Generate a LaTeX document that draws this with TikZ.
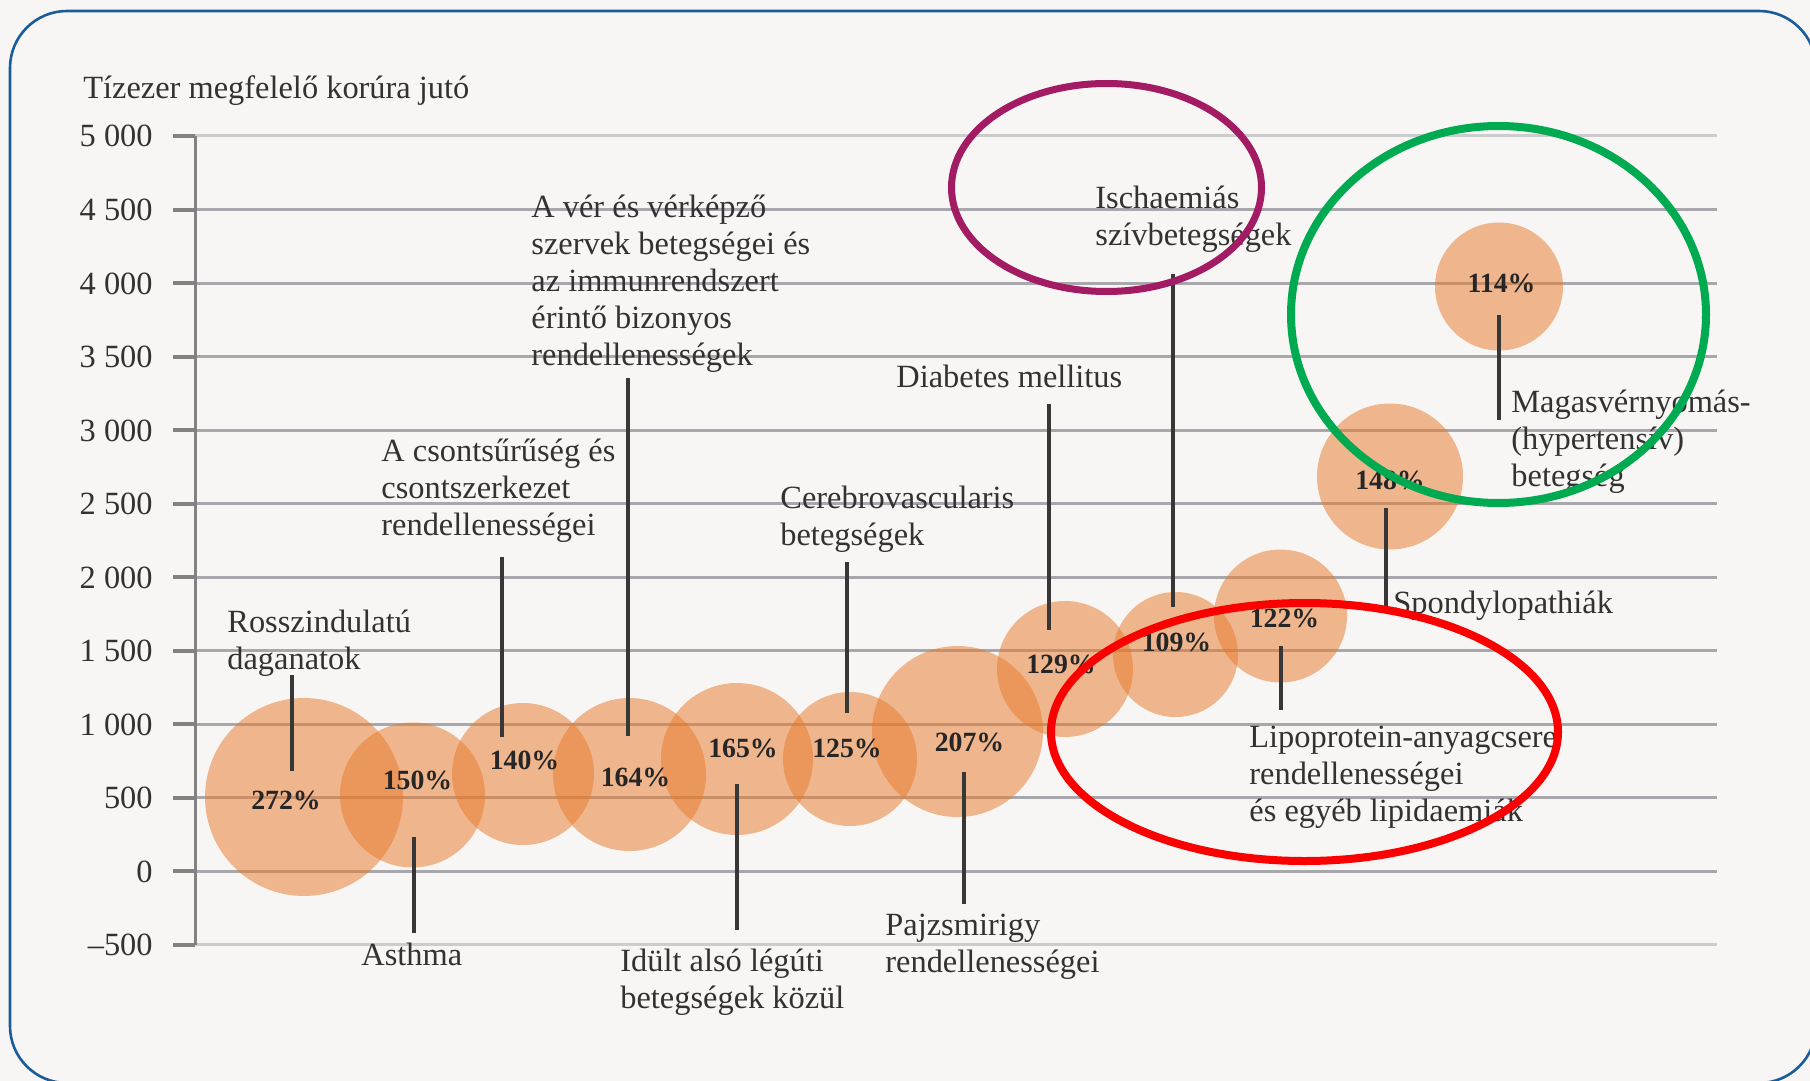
\documentclass[tikz,border=0pt]{standalone}
\usepackage{fontspec}
\setmainfont{Liberation Serif}
\definecolor{bgc}{RGB}{247,246,244}
\definecolor{frameblue}{RGB}{26,92,154}
\definecolor{gridc}{RGB}{168,168,172}
\definecolor{gridl}{RGB}{204,204,204}
\definecolor{tickc}{RGB}{130,130,130}
\definecolor{bubc}{RGB}{232,120,40}
\definecolor{txtc}{RGB}{50,50,50}
\definecolor{connc}{RGB}{55,55,55}
\definecolor{purpc}{RGB}{163,27,99}
\definecolor{grnc}{RGB}{0,170,80}
\definecolor{redc}{RGB}{250,0,0}
\newcommand\lblfont{\fontsize{16.2}{18.6}\selectfont}
\newcommand\pctfont{\fontsize{13.9}{16}\selectfont\bfseries}
\newcommand\ml[1]{\begin{tabular}[t]{@{}l@{}}#1\end{tabular}}
\begin{document}
\begin{tikzpicture}[x=0.5pt,y=-0.5pt,
  lbl/.style={anchor=base west, inner sep=0pt, text=txtc, font=\lblfont},
  ylbl/.style={anchor=base east, inner sep=0pt, text=txtc, font=\lblfont},
  pct/.style={anchor=base, inner sep=0pt, text=black!85, font=\pctfont},
  bubble/.style={circle, fill=bubc, fill opacity=0.5, draw=none, inner sep=0pt},
  conn/.style={draw=connc, line width=1.6pt},
  ring/.style={line width=4pt}]
\useasboundingbox (0,0) rectangle (1810,1081);
\fill[bgc] (0,0) rectangle (1810,1081);
% grid
\foreach \y/\t/\c in {136/5 000/gridl, 209.5/4 500/gridc, 283/4 000/gridc, 356.5/3 500/gridc,
  430/3 000/gridc, 503.5/2 500/gridc, 577/2 000/gridc, 650.5/1 500/gridc, 724/1 000/gridc,
  797.5/500/gridc, 871/0/gridc, 944.5/–500/gridl}{
  \draw[\c, line width=1.5pt] (195,\y) -- (1717,\y);
  \draw[tickc, line width=2pt] (173,\y) -- (195,\y);
  \node[ylbl] at (153,\y+11) {\t};
}
\draw[tickc, line width=1.5pt] (195,136) -- (195,945);
\node[lbl] (title) at (83,98) {Tízezer megfelelő korúra jutó};
% bubbles
\node[bubble, minimum size=99pt]   (b1)  at (304,797) {};
\node[bubble, minimum size=72.5pt] (b2)  at (412.5,795) {};
\node[bubble, minimum size=71pt]   (b3)  at (523,774) {};
\node[bubble, minimum size=76.5pt] (b4)  at (629.5,774.5) {};
\node[bubble, minimum size=76pt]   (b5)  at (737,759) {};
\node[bubble, minimum size=67pt]   (b6)  at (850,759) {};
\node[bubble, minimum size=85.5pt] (b7)  at (957.5,731.5) {};
\node[bubble, minimum size=68pt]   (b8)  at (1065,669) {};
\node[bubble, minimum size=62.5pt] (b9)  at (1175.5,654.5) {};
\node[bubble, minimum size=66.5pt] (b10) at (1280.5,616) {};
\node[bubble, minimum size=73pt]   (b11) at (1390,476.5) {};
\node[bubble, minimum size=64pt]   (b12) at (1499,286.5) {};
% percentages
\node[pct] (p1)  at (286,809.5)  {272\%};
\node[pct] (p2)  at (417.5,789.5) {150\%};
\node[pct] (p3)  at (524.5,769.5) {140\%};
\node[pct] (p4)  at (635.5,786.5) {164\%};
\node[pct] (p5)  at (743,757.5)  {165\%};
\node[pct] (p6)  at (847,757.5)  {125\%};
\node[pct] (p7)  at (969.5,751.5) {207\%};
\node[pct] (p8)  at (1061,673.5) {129\%};
\node[pct] (p9)  at (1176.5,651.5) {109\%};
\node[pct] (p10) at (1284.5,627.5) {122\%};
\node[pct] (p11) at (1390,489.5) {148\%};
\node[pct] (p12) at (1501.5,292.5) {114\%};
% connector ends
\coordinate (c1a) at (292,675);   \coordinate (c1b) at (292,771);
\coordinate (c2a) at (414,837);   \coordinate (c2b) at (414,933);
\coordinate (c3a) at (502,557);   \coordinate (c3b) at (502,737);
\coordinate (c4a) at (628,378);   \coordinate (c4b) at (628,736);
\coordinate (c5a) at (737,784);   \coordinate (c5b) at (737,930);
\coordinate (c6a) at (847,562);   \coordinate (c6b) at (847,713);
\coordinate (c7a) at (964,772);   \coordinate (c7b) at (964,904);
\coordinate (c8a) at (1049,404);  \coordinate (c8b) at (1049,630);
\coordinate (c9a) at (1173,274);  \coordinate (c9b) at (1173,607);
\coordinate (c10a) at (1281,646); \coordinate (c10b) at (1281,710);
\coordinate (c11a) at (1386,508); \coordinate (c11b) at (1386,613);
\coordinate (c12a) at (1499,315); \coordinate (c12b) at (1499,420);
\foreach \i in {1,...,12}{\draw[conn] (c\i a) -- (c\i b);}
% labels
\node[lbl] (lRossz)  at (227,632)  {\ml{Rosszindulatú\\daganatok}};
\node[lbl] (lAsthma) at (361,965)  {Asthma};
\node[lbl] (lCsont)  at (381,461)  {\ml{A csontsűrűség és\\csontszerkezet\\rendellenességei}};
\node[lbl] (lVer)    at (531,217)  {\ml{A vér és vérképző\\szervek betegségei és\\az immunrendszert\\érintő bizonyos\\rendellenességek}};
\node[lbl] (lIdult)  at (620,971)  {\ml{Idült alsó légúti\\betegségek közül}};
\node[lbl] (lCereb)  at (780,508)  {\ml{Cerebrovascularis\\betegségek}};
\node[lbl] (lPajzs)  at (885,935)  {\ml{Pajzsmirigy\\rendellenességei}};
\node[lbl] (lDiab)   at (896,387)  {Diabetes mellitus};
\node[lbl] (lIsch)   at (1095,208) {\ml{Ischaemiás\\szívbetegségek}};
\node[lbl] (lLipo)   at (1249,747) {\ml{Lipoprotein-anyagcsere\\rendellenességei\\és egyéb lipidaemiák}};
\node[lbl] (lSpond)  at (1393,613) {Spondylopathiák};
\node[lbl] (lMagas)  at (1511,412) {\ml{Magasvérnyomás-\\(hypertensív)\\betegség}};
% highlight rings
\draw[ring, line width=3.5pt, purpc] (1106.5,187.5) ellipse [x radius=155, y radius=104];
\draw[ring, grnc] (1498.5,314.5) ellipse [x radius=207.5, y radius=188.5];
\draw[ring, redc] (1304.5,732) ellipse [x radius=253.5, y radius=129];
% frame
\draw[frameblue, line width=1.3pt, rounded corners=28.5pt] (10,11) rectangle (1816,1083);
\end{tikzpicture}
\end{document}
